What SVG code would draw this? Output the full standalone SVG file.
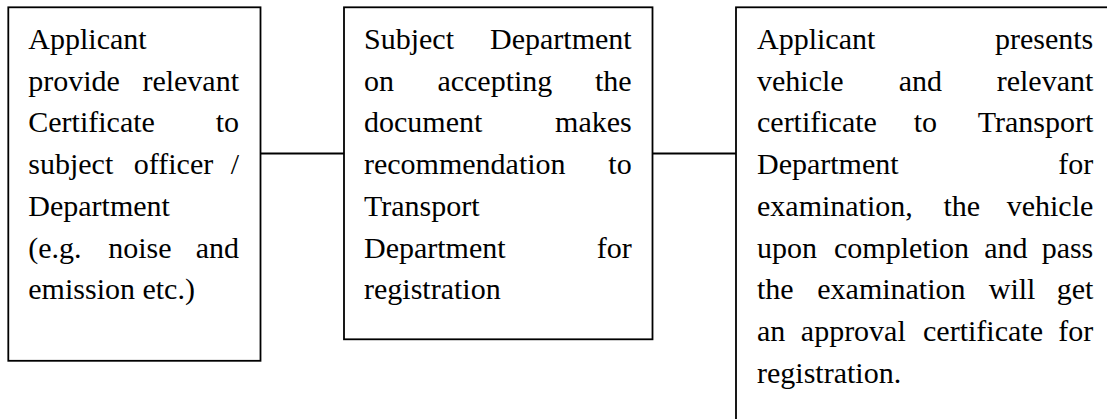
<svg xmlns="http://www.w3.org/2000/svg" width="1107" height="419" viewBox="0 0 1107 419">
<style>
.box{fill:#fff;stroke:#000;stroke-width:1.8}
.con{stroke:#000;stroke-width:1.8;fill:none}
.e{text-anchor:end}
.m{text-anchor:middle}
</style>
<rect width="1107" height="419" fill="#fff"/>
<g id="connectors">
<line class="con" x1="260.5" y1="153.5" x2="344" y2="153.5"/>
<line class="con" x1="652.5" y1="153.5" x2="736" y2="153.5"/>
</g>
<g id="node1" font-family="Liberation Serif" font-size="30" fill="#000">
<rect class="box" x="8.3" y="7.3" width="252.2" height="353.5"/>
<text x="28.3" y="49">Applicant</text>
<text x="28.3" y="90.7">provide</text><text class="e" x="239" y="90.7">relevant</text>
<text x="28.3" y="132.4">Certificate</text><text class="e" x="239" y="132.4">to</text>
<text x="28.3" y="174.1">subject</text><text class="m" x="173.5" y="174.1">officer</text><text class="e" x="239" y="174.1">/</text>
<text x="28.3" y="215.8">Department</text>
<text x="28.3" y="257.5">(e.g.</text><text class="m" x="139.8" y="257.5">noise</text><text class="e" x="239" y="257.5">and</text>
<text x="28.3" y="299.2">emission etc.)</text>
</g>
<g id="node2" font-family="Liberation Serif" font-size="30" fill="#000">
<rect class="box" x="344" y="7.3" width="308.5" height="332"/>
<text x="364" y="49">Subject</text><text class="e" x="631.7" y="49">Department</text>
<text x="364" y="90.7">on</text><text class="m" x="494.9" y="90.7">accepting</text><text class="e" x="631.7" y="90.7">the</text>
<text x="364" y="132.4">document</text><text class="e" x="631.7" y="132.4">makes</text>
<text x="364" y="174.1">recommendation</text><text class="e" x="631.7" y="174.1">to</text>
<text x="364" y="215.8">Transport</text>
<text x="364" y="257.5">Department</text><text class="e" x="631.7" y="257.5">for</text>
<text x="364" y="299.2">registration</text>
</g>
<g id="node3" font-family="Liberation Serif" font-size="30" fill="#000">
<rect class="box" x="736" y="7.3" width="400" height="450"/>
<text x="757" y="49">Applicant</text><text class="e" x="1093.3" y="49">presents</text>
<text x="757" y="90.7">vehicle</text><text class="m" x="920.3" y="90.7">and</text><text class="e" x="1093.3" y="90.7">relevant</text>
<text x="757" y="132.4">certificate</text><text class="m" x="925.3" y="132.4">to</text><text class="e" x="1093.3" y="132.4">Transport</text>
<text x="757" y="174.1">Department</text><text class="e" x="1093.3" y="174.1">for</text>
<text x="757" y="215.8">examination,</text><text class="m" x="961.8" y="215.8">the</text><text class="e" x="1093.3" y="215.8">vehicle</text>
<text x="757" y="257.5">upon</text><text class="m" x="901.5" y="257.5">completion</text><text class="m" x="1005.8" y="257.5">and</text><text class="e" x="1093.3" y="257.5">pass</text>
<text x="757" y="299.2">the</text><text class="m" x="891.4" y="299.2">examination</text><text class="m" x="1012.1" y="299.2">will</text><text class="e" x="1093.3" y="299.2">get</text>
<text x="757" y="340.9">an</text><text class="m" x="853.3" y="340.9">approval</text><text class="m" x="983" y="340.9">certificate</text><text class="e" x="1093.3" y="340.9">for</text>
<text x="757" y="382.6">registration.</text>
</g>
</svg>
